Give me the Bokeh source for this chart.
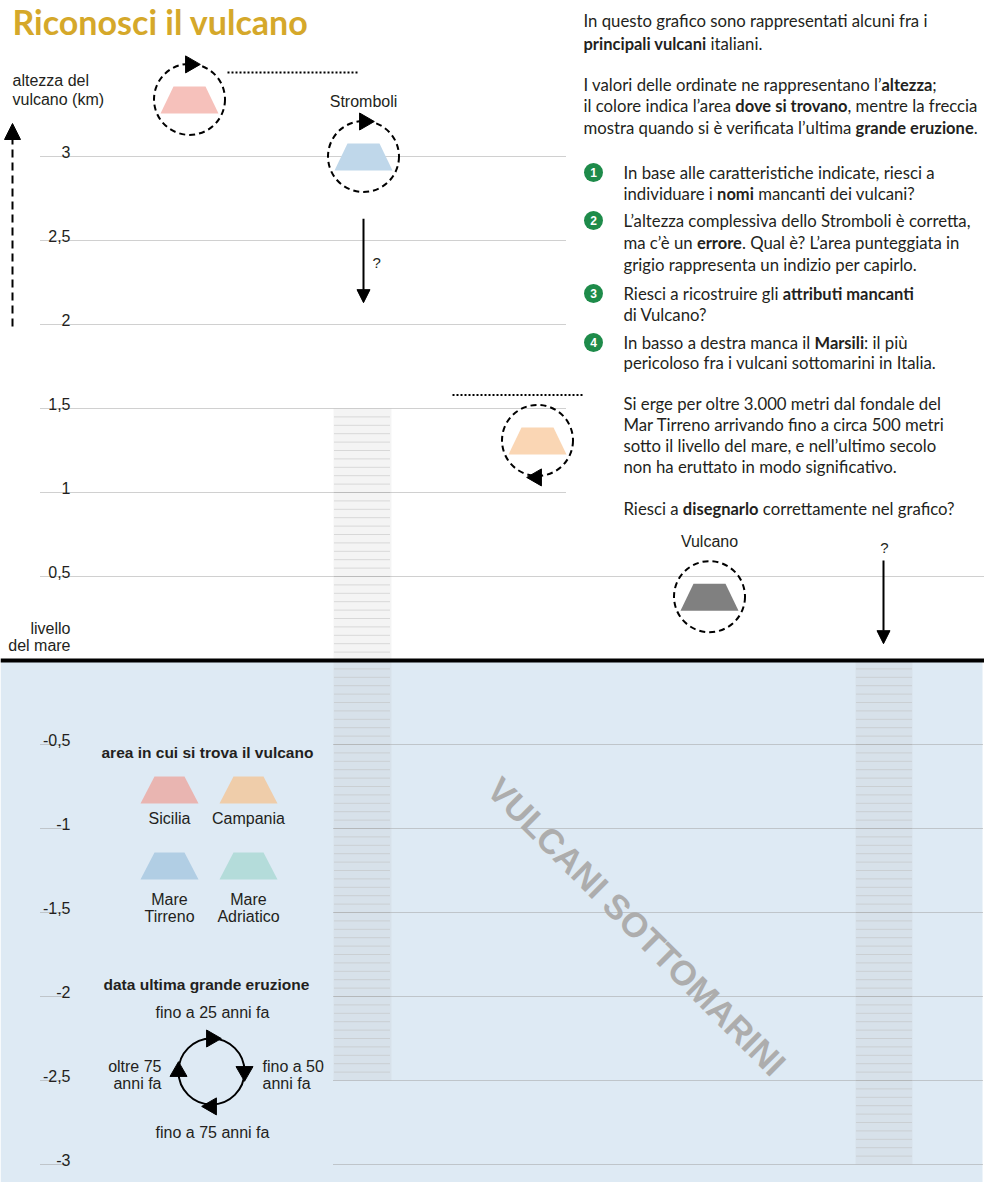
import glob
import math
from bokeh.plotting import figure
from bokeh.models import Range1d, Arrow, NormalHead
from bokeh.core.properties import value
from bokeh.embed import file_html
from bokeh.resources import INLINE

try:
    from PIL import ImageFont
except Exception:
    ImageFont = None

# ------------------------------------------------------------------ data
tick_values_up = [3, 2.5, 2, 1.5, 1, 0.5]
tick_labels_up = ["3", "2,5", "2", "1,5", "1", "0,5"]
tick_values_down = [-0.5, -1, -1.5, -2, -2.5, -3]
tick_labels_down = ["-0,5", "-1", "-1,5", "-2", "-2,5", "-3"]

volcano_labels = ["", "Stromboli", "", "Vulcano"]
volcano_height_km = [3.34, 3.0, 1.31, 0.38]
volcano_area = ["Sicilia", "Mare Tirreno", "Campania", "?"]
volcano_eruption = ["fino a 25 anni fa", "fino a 25 anni fa", "fino a 75 anni fa", "?"]
name_blank_km = [3.5, None, 1.58, None]

hint_column_top_km = [1.5, 0.0]
hint_column_bottom_km = [-2.5, -3.0]
hint_arrow_from_km = [2.63, 0.595]
hint_arrow_to_km = [2.13, 0.10]

legend_areas = ["Sicilia", "Campania", "Mare Tirreno", "Mare Adriatico"]
legend_area_labels = [["Sicilia"], ["Campania"], ["Mare", "Tirreno"], ["Mare", "Adriatico"]]
eruption_classes = ["fino a 25 anni fa", "fino a 50 anni fa", "fino a 75 anni fa", "oltre 75 anni fa"]

# ------------------------------------------------------------------ styles / layout
SEA_PY = 660.0
PX_PER_KM = 168.0


def Y(py):
    return (SEA_PY - py) / PX_PER_KM


AREA_COLOR = {"Sicilia": "#F6C1BB", "Campania": "#FAD6B4", "Mare Tirreno": "#BFD7EA",
              "Mare Adriatico": "#B9E0DD", "?": "#808080"}
AREA_COLOR_LEGEND = {"Sicilia": "#E9B5B1", "Campania": "#EFCDAA", "Mare Tirreno": "#B1CEE4",
                     "Mare Adriatico": "#B4DCDA"}
# arrow on the circle: (dx px, dy px (down positive), marker angle)
ERUPTION_POS = {
    "fino a 25 anni fa": (1, -35, -math.pi / 2),
    "fino a 50 anni fa": (35, 0, math.pi),
    "fino a 75 anni fa": (-1, 37, math.pi / 2),
    "oltre 75 anni fa": (-35, 0, 0.0),
}
volcano_x = [189, 363, 537, 709]
blank_x = [(227, 357), None, (452, 583), None]
hint_column_x = [(333, 391), (855, 912)]
hint_arrow_x = [363, 883]
hint_q = [(372, 262, "left"), (884, 547, "center")]

TXT = "#231F20"
SANS = value("Liberation Sans")
LATO = value("Lato")
GOLD = "#D5A82A"
GREEN = "#1E8B4A"
SEA = "#DEEAF4"
GRID = "#A0A0A0"


def find_font(fname):
    for root in ("/usr/share/fonts", "/usr/local/share/fonts", "/root/.fonts"):
        hits = glob.glob(root + "/**/" + fname, recursive=True)
        if hits:
            return hits[0]
    return None


_fonts = {}


def text_width(text, fname, size, fallback=0.5):
    path = find_font(fname)
    if ImageFont is not None and path:
        if path not in _fonts:
            _fonts[path] = ImageFont.truetype(path, 100)
        return _fonts[path].getlength(text) * size / 100.0
    return len(text) * fallback * size


# ------------------------------------------------------------------ figure
p = figure(width=984, height=1182, x_range=Range1d(0, 984), y_range=Range1d(Y(1182), Y(0)),
           output_backend="svg", toolbar_location=None, x_axis_location=None,
           y_axis_location=None, min_border=0)
p.grid.visible = False
p.outline_line_color = None
p.background_fill_color = "white"

# sea
p.quad(left=0, right=982, top=0, bottom=Y(1182), fill_color=SEA, line_color=None)

# hint columns
for (x0, x1), top, bot in zip(hint_column_x, hint_column_top_km, hint_column_bottom_km):
    p.quad(left=x0, right=x1, top=top, bottom=bot, fill_color="#A8A8A8", fill_alpha=0.13,
           line_color=None)
    n = int(round((top - bot) / 0.05))
    ys = [top - 0.05 * k for k in range(1, n)]
    p.segment(x0=[x0 + 1] * len(ys), x1=[x1 - 1] * len(ys), y0=ys, y1=ys,
              line_color="#BDBDBD", line_width=1, line_dash="1 1")

# grid lines
up_x1 = [565 if v > 0.5 else 985 for v in tick_values_up]
p.segment(x0=[40] * len(tick_values_up), x1=up_x1, y0=tick_values_up, y1=tick_values_up,
          line_color=GRID, line_width=1, line_dash="1 1")
p.segment(x0=[40] * len(tick_values_down), x1=[66] * len(tick_values_down),
          y0=tick_values_down, y1=tick_values_down, line_color=GRID, line_width=1,
          line_dash="1 1")
p.segment(x0=[333] * len(tick_values_down), x1=[982] * len(tick_values_down),
          y0=tick_values_down, y1=tick_values_down, line_color=GRID, line_width=1,
          line_dash="1 1")

# tick labels
p.text(x=[70] * 6, y=tick_values_up, text=tick_labels_up, text_font=SANS,
       text_font_size="16px", text_align="right", text_baseline="alphabetic",
       y_offset=-5, text_color=TXT)
p.text(x=[70] * 6, y=tick_values_down, text=tick_labels_down, text_font=SANS,
       text_font_size="16px", text_align="right", text_baseline="alphabetic",
       y_offset=-5, text_color=TXT)

# sea level line
p.segment(x0=[0], x1=[985], y0=[0], y1=[0], line_color="black", line_width=4)

# axis caption + dashed arrow
p.text(x=[12, 12], y=[Y(80), Y(99)], text=["altezza del", "vulcano (km)"], text_font=SANS,
       text_font_size="16px", text_baseline="middle", text_color=TXT)
p.text(x=[70, 70], y=[Y(628), Y(645)], text=["livello", "del mare"], text_font=SANS,
       text_font_size="16px", text_baseline="middle", text_align="right", text_color=TXT)
p.add_layout(Arrow(x_start=12, y_start=Y(326), x_end=12, y_end=Y(123), line_width=2,
                   line_dash="8 5", line_color="black",
                   end=NormalHead(size=16, fill_color="black", line_color="black")))

# title
title = "Riconosci il vulcano"
tsize = 30 * 295 / max(1.0, text_width(title, "Lato-Bold.ttf", 30, 0.53))
tsize = max(24, min(34, tsize))
p.text(x=[12], y=[Y(21)], text=[title], text_font=LATO, text_font_style="bold",
       text_font_size=f"{tsize:.1f}px", text_baseline="middle", text_color=GOLD)

# ------------------------------------------------------------------ volcano icons
tx, ty, tc = [], [], []
for cx, h, area in zip(volcano_x, volcano_height_km, volcano_area):
    tx.append([cx - 16, cx + 16, cx + 29, cx - 29])
    ty.append([h + 13 / PX_PER_KM, h + 13 / PX_PER_KM, h - 14 / PX_PER_KM, h - 14 / PX_PER_KM])
    tc.append(AREA_COLOR[area])
p.patches(xs=tx, ys=ty, fill_color=tc, line_color=None)
p.scatter(x=volcano_x, y=volcano_height_km, size=71, marker="circle", fill_color=None,
          line_color="black", line_width=2, line_dash="6 4")

ax, ay, aa = [], [], []
for cx, h, er in zip(volcano_x, volcano_height_km, volcano_eruption):
    if er in ERUPTION_POS:
        dx, dy, ang = ERUPTION_POS[er]
        ax.append(cx + dx)
        ay.append(h - dy / PX_PER_KM)
        aa.append(ang)
p.scatter(x=ax, y=ay, angle=aa, marker="triangle", size=17, fill_color="black",
          line_color="black")

lx, ly, lt = [], [], []
for cx, h, lab in zip(volcano_x, volcano_height_km, volcano_labels):
    if lab:
        lx.append(cx)
        ly.append(h + 55 / PX_PER_KM)
        lt.append(lab)
p.text(x=lx, y=ly, text=lt, text_font=SANS, text_font_size="16px", text_align="center",
       text_baseline="middle", text_color=TXT)

bx0, bx1, by = [], [], []
for bxx, bk in zip(blank_x, name_blank_km):
    if bxx is not None:
        bx0.append(bxx[0])
        bx1.append(bxx[1])
        by.append(bk)
p.segment(x0=bx0, x1=bx1, y0=by, y1=by, line_color="black", line_width=2, line_dash="2 2")

for hx, y0, y1 in zip(hint_arrow_x, hint_arrow_from_km, hint_arrow_to_km):
    p.add_layout(Arrow(x_start=hx, y_start=y0, x_end=hx, y_end=y1, line_width=2,
                       line_color="black",
                       end=NormalHead(size=13, fill_color="black", line_color="black")))
for qx, qy, qa in hint_q:
    p.text(x=[qx], y=[Y(qy)], text=["?"], text_font=SANS, text_font_size="15px",
           text_align=qa, text_baseline="middle", text_color=TXT)

# watermark
wm = "VULCANI SOTTOMARINI"
wsize = 36 * 405 / max(1.0, text_width(wm, "LiberationSans-Bold.ttf", 36, 0.66))
wsize = max(26, min(42, wsize))
p.text(x=[636], y=[Y(926)], text=[wm], angle=-math.pi / 4, text_font=SANS,
       text_font_style="bold", text_font_size=f"{wsize:.1f}px", text_align="center",
       text_baseline="middle", text_color="#ADADAD")

# ------------------------------------------------------------------ legend
p.text(x=[101], y=[Y(752)], text=["area in cui si trova il vulcano"], text_font=SANS,
       text_font_style="bold", text_font_size="15.5px", text_baseline="middle",
       text_color=TXT)
leg_cx = [169, 248, 169, 248]
leg_top = [776, 776, 852, 852]
lgx, lgy, lgc = [], [], []
for area, cx, tp in zip(legend_areas, leg_cx, leg_top):
    lgx.append([cx - 15, cx + 15, cx + 29, cx - 29])
    lgy.append([Y(tp), Y(tp), Y(tp + 27), Y(tp + 27)])
    lgc.append(AREA_COLOR_LEGEND[area])
p.patches(xs=lgx, ys=lgy, fill_color=lgc, line_color=None)
llx, lly, llt = [], [], []
for labs, cx, tp in zip(legend_area_labels, leg_cx, leg_top):
    for k, s in enumerate(labs):
        llx.append(cx)
        lly.append(Y(tp + 42 + 17 * k + (5 if len(labs) > 1 else 0)))
        llt.append(s)
p.text(x=llx, y=lly, text=llt, text_font=SANS, text_font_size="16px", text_align="center",
       text_baseline="middle", text_color=TXT)

p.text(x=[103], y=[Y(984)], text=["data ultima grande eruzione"], text_font=SANS,
       text_font_style="bold", text_font_size="15.5px", text_baseline="middle",
       text_color=TXT)
ecx, ecy = 211, 1071
p.scatter(x=[ecx], y=[Y(ecy)], size=66, marker="circle", fill_color=None,
          line_color="black", line_width=2)
eax, eay, eaa = [], [], []
for er in eruption_classes:
    dx, dy, ang = ERUPTION_POS[er]
    eax.append(ecx + (dx if abs(dx) > 2 else 0) * 33 / 35)
    eay.append(Y(ecy + dy * 33 / 35))
    eaa.append(ang)
p.scatter(x=eax, y=eay, angle=eaa, marker="triangle", size=17, fill_color="black",
          line_color="black")
p.text(x=[212, 212], y=[Y(1012), Y(1132)], text=[eruption_classes[0], eruption_classes[2]],
       text_font=SANS, text_font_size="16px", text_align="center", text_baseline="middle",
       text_color=TXT)
p.text(x=[262, 262], y=[Y(1066), Y(1083)], text=["fino a 50", "anni fa"], text_font=SANS,
       text_font_size="16px", text_align="left", text_baseline="middle", text_color=TXT)
p.text(x=[161, 161], y=[Y(1066), Y(1083)], text=["oltre 75", "anni fa"], text_font=SANS,
       text_font_size="16px", text_align="right", text_baseline="middle", text_color=TXT)

# ------------------------------------------------------------------ right column text
LR, LB = "Lato-Regular.ttf", "Lato-Bold.ttf"
ref_line = "L’altezza complessiva dello Stromboli è corretta,"
bsize = 15 * 347 / max(1.0, text_width(ref_line, LR, 15, 0.48))
bsize = max(13, min(17, bsize))
bold_size = bsize * 0.985

lines = [
    (583, 20, [("In questo grafico sono rappresentati alcuni fra i", 0)]),
    (583, 43, [("principali vulcani", 1), (" italiani.", 0)]),
    (583, 84, [("I valori delle ordinate ne rappresentano l’", 0), ("altezza", 1), (";", 0)]),
    (583, 105, [("il colore indica l’area ", 0), ("dove si trovano", 1),
                (", mentre la freccia", 0)]),
    (583, 127, [("mostra quando si è verificata l’ultima ", 0), ("grande eruzione", 1),
                (".", 0)]),
    (623, 172, [("In base alle caratteristiche indicate, riesci a", 0)]),
    (623, 193, [("individuare i ", 0), ("nomi", 1), (" mancanti dei vulcani?", 0)]),
    (623, 220, [("L’altezza complessiva dello Stromboli è corretta,", 0)]),
    (623, 242, [("ma c’è un ", 0), ("errore", 1), (". Qual è? L’area punteggiata in", 0)]),
    (623, 264, [("grigio rappresenta un indizio per capirlo.", 0)]),
    (623, 293, [("Riesci a ricostruire gli ", 0), ("attributi mancanti", 1)]),
    (623, 314, [("di Vulcano?", 0)]),
    (623, 342, [("In basso a destra manca il ", 0), ("Marsili", 1), (": il più", 0)]),
    (623, 362, [("pericoloso fra i vulcani sottomarini in Italia.", 0)]),
    (623, 403, [("Si erge per oltre 3.000 metri dal fondale del", 0)]),
    (623, 424, [("Mar Tirreno arrivando fino a circa 500 metri", 0)]),
    (623, 445, [("sotto il livello del mare, e nell’ultimo secolo", 0)]),
    (623, 466, [("non ha eruttato in modo significativo.", 0)]),
    (623, 508, [("Riesci a ", 0), ("disegnarlo", 1), (" correttamente nel grafico?", 0)]),
]
rx, ry, rt, bx, byy, bt = [], [], [], [], [], []
for x0, py, segs in lines:
    cur = x0
    for s, b in segs:
        font = LB if b else LR
        fs = bold_size if b else bsize
        fb = 0.52 if b else 0.48
        lead = len(s) - len(s.lstrip(" "))
        if lead:
            cur += text_width(" " * lead, font, fs, 0.25)
            s = s.lstrip(" ")
        if b:
            bx.append(cur); byy.append(Y(py)); bt.append(s)
        else:
            rx.append(cur); ry.append(Y(py)); rt.append(s)
        cur += text_width(s, font, fs, fb)
p.text(x=rx, y=ry, text=rt, text_font=LATO, text_font_size=f"{bsize:.2f}px",
       text_baseline="middle", text_color=TXT)
p.text(x=bx, y=byy, text=bt, text_font=LATO, text_font_style="bold",
       text_font_size=f"{bold_size:.2f}px", text_baseline="middle", text_color=TXT)

num_py = [172, 220, 293, 342]
p.scatter(x=[593] * 4, y=[Y(v) for v in num_py], size=19, marker="circle",
          fill_color=GREEN, line_color=None)
p.text(x=[593] * 4, y=[Y(v) for v in num_py], text=["1", "2", "3", "4"], text_font=SANS,
       text_font_style="bold", text_font_size="12px", text_align="center",
       text_baseline="middle", text_color="white")

open("out.html", "w").write(file_html(p, INLINE))
